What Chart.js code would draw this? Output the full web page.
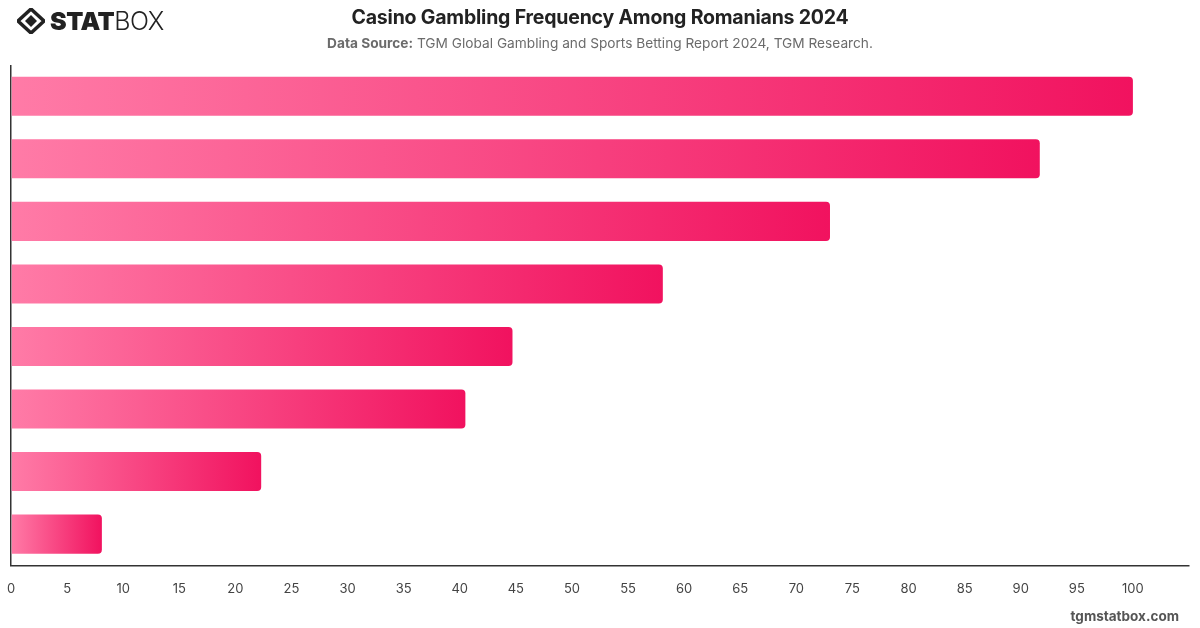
<!DOCTYPE html>
<html>
<head>
<meta charset="utf-8">
<script src="https://cdn.jsdelivr.net/npm/chart.js@4"></script>
<style>
  html, body { margin: 0; padding: 0; background: #fff; }
  #wrap { position: relative; width: 1200px; height: 628px; overflow: hidden; font-family: Inter, "Liberation Sans", sans-serif; }
  #chart { position: absolute; left: 0; top: 0; }
  .title { position: absolute; top: 5px; left: 0; width: 1200px; text-align: center; font-size: 19.5px; font-weight: 700; color: #222; letter-spacing: -0.2px; }
  .source { position: absolute; top: 35px; left: 0; width: 1200px; text-align: center; font-size: 13.7px; color: #6b6b6b; }
  .source b { font-weight: 700; }
  .logo { position: absolute; left: 17px; top: 7px; height: 28px; display: flex; align-items: center; }
  .logo span { font-size: 25px; color: #222; line-height: 28px; }
  .logo .s1 { font-weight: 900; letter-spacing: -0.5px; margin-left: 5px; }
  .logo .s2 { font-weight: 300; letter-spacing: -0.5px; }
  .foot { position: absolute; right: 21px; bottom: 4px; font-size: 13.5px; font-weight: 700; color: #555; }
</style>
</head>
<body>
<div id="wrap">
  <canvas id="chart" width="1200" height="628"></canvas>
  <div class="logo">
    <svg width="28" height="26" viewBox="0 0 28 26">
      <polygon points="14,1 27,13 14,25 1,13" fill="none" stroke="#222" stroke-width="3.5"/>
      <polygon points="14,7 20,13 14,19 8,13" fill="#222"/>
    </svg>
    <span class="s1">STAT</span><span class="s2">BOX</span>
  </div>
  <div class="title">Casino Gambling Frequency Among Romanians 2024</div>
  <div class="source"><b>Data Source:</b> TGM Global Gambling and Sports Betting Report 2024, TGM Research.</div>
  <div class="foot">tgmstatbox.com</div>
</div>
<script>
const categories = ['Row 1', 'Row 2', 'Row 3', 'Row 4', 'Row 5', 'Row 6', 'Row 7', 'Row 8'];
const values = [100, 91.7, 73.0, 58.1, 44.7, 40.5, 22.3, 8.1];
const axisMax = 105;
const tickStep = 5;

const canvas = document.getElementById('chart');

// gradient from light pink at the bar start to strong pink at its end
function barGradient(ctx) {
	if (ctx.type !== 'data') return '#f5176a';
	const chart = ctx.chart;
	const x = chart.scales.x;
	if (!x || !chart.chartArea) return '#f5176a';
	const x0 = x.getPixelForValue(0);
	const x1 = x.getPixelForValue(ctx.raw);
	if (!isFinite(x0) || !isFinite(x1) || x1 <= x0) return '#f5176a';
	const g = chart.ctx.createLinearGradient(x0, 0, x1, 0);
	g.addColorStop(0, '#ff7ba7');
	g.addColorStop(1, '#f1125f');
	return g;
}

const graph = new Chart(canvas, {
	type: 'bar',
	data: {
		labels: categories,
		datasets: [{
			data: values,
			backgroundColor: barGradient,
			borderRadius: 4,
			borderSkipped: 'start',
			categoryPercentage: 0.8,
			barPercentage: 0.78
		}]
	},
	options: {
		indexAxis: 'y',
		responsive: false,
		animation: false,
		layout: { padding: { top: 65, left: 11, right: 11, bottom: 28 } },
		plugins: {
			legend: { display: false },
			tooltip: { enabled: false }
		},
		scales: {
			x: {
				min: 0,
				max: axisMax,
				// only the line at 0 is drawn, it stands in for the y axis
				grid: {
					display: true,
					drawTicks: true,
					tickLength: 13,
					tickColor: 'rgba(0,0,0,0)',
					lineWidth: 1.5,
					color: (c) => (c.tick && c.tick.value === 0 ? '#333' : 'rgba(0,0,0,0)')
				},
				border: { display: true, color: '#333', width: 1.5 },
				ticks: {
					stepSize: tickStep,
					padding: 3,
					color: '#444',
					font: { family: 'Inter, "Liberation Sans", sans-serif', size: 13 },
					maxRotation: 0,
					callback: (v) => (v > 100 ? '' : v)
				}
			},
			y: {
				display: false
			}
		}
	}
});
</script>
</body>
</html>
